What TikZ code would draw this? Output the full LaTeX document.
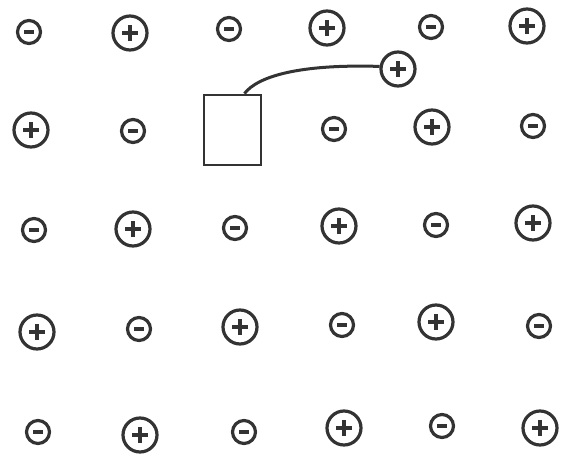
\documentclass[tikz,border=0pt]{standalone}
\begin{document}
\begin{tikzpicture}[x=1pt,y=-1pt,
  posion/.style={circle,draw=black!80,line width=3.2pt,minimum size=34pt,inner sep=0pt,
    path picture={
      \draw[black!80,line width=3.4pt] ([xshift=-8pt]path picture bounding box.center) -- ([xshift=8pt]path picture bounding box.center);
      \draw[black!80,line width=3.4pt] ([yshift=-8pt]path picture bounding box.center) -- ([yshift=8pt]path picture bounding box.center);
    }},
  negion/.style={circle,draw=black!80,line width=3.2pt,minimum size=23pt,inner sep=0pt,
    path picture={
      \draw[black!80,line width=3.6pt] ([xshift=-5pt]path picture bounding box.center) -- ([xshift=5pt]path picture bounding box.center);
    }},
  vacancy/.style={rectangle,draw=black!80,line width=2.8pt,minimum width=57pt,minimum height=70pt,inner sep=0pt}
]
\useasboundingbox (0,0) rectangle (566,458);
\fill[white] (0,0) rectangle (566,458);
% row 1
\node[negion] (a11) at (29,32) {};
\node[posion] (a12) at (130,33) {};
\node[negion] (a13) at (229,29) {};
\node[posion] (a14) at (327,28) {};
\node[negion] (a15) at (431,27) {};
\node[posion] (a16) at (527,26) {};
% interstitial
\node[posion] (int) at (398,69) {};
% row 2
\node[posion] (a21) at (31,130) {};
\node[negion] (a22) at (133,131) {};
\node[vacancy] (vac) at (232.5,130) {};
\node[negion] (a24) at (334,129) {};
\node[posion] (a25) at (432,127) {};
\node[negion] (a26) at (533,126) {};
% row 3
\node[negion] (a31) at (34,230) {};
\node[posion] (a32) at (133,229) {};
\node[negion] (a33) at (235,228) {};
\node[posion] (a34) at (339,226) {};
\node[negion] (a35) at (436,225) {};
\node[posion] (a36) at (533,223) {};
% row 4
\node[posion] (a41) at (37,332) {};
\node[negion] (a42) at (139,329) {};
\node[posion] (a43) at (240,327) {};
\node[negion] (a44) at (342,325) {};
\node[posion] (a45) at (436,322) {};
\node[negion] (a46) at (539,326) {};
% row 5
\node[negion] (a51) at (38,432) {};
\node[posion] (a52) at (140,435) {};
\node[negion] (a53) at (244,432) {};
\node[posion] (a54) at (344,428) {};
\node[negion] (a55) at (442,426) {};
\node[posion] (a56) at (540,428) {};
% path of displaced ion
\draw[black!80,line width=3pt] ([xshift=-18pt]vac.north east) .. controls (258,76) and (300,64) .. (int.172);
\end{tikzpicture}
\end{document}
